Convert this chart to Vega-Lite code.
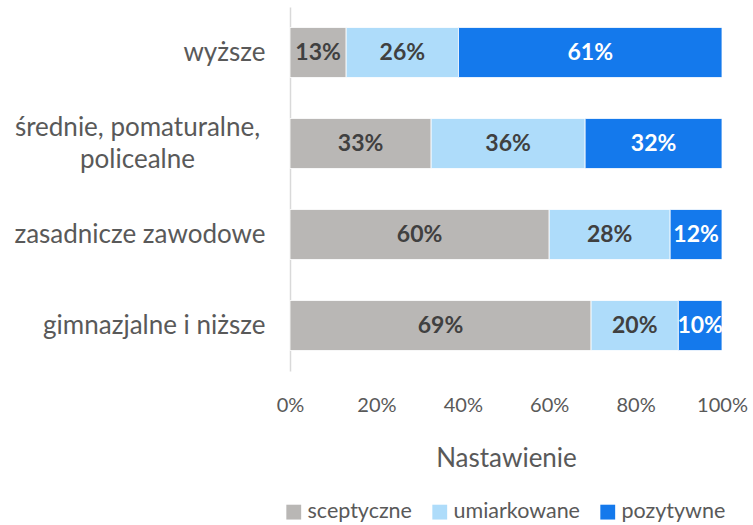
{
  "$schema": "https://vega.github.io/schema/vega-lite/v6.json",
  "width": 432,
  "height": 364,
  "autosize": {"type": "none"},
  "padding": {"left": 290, "top": 7, "right": 31, "bottom": 154},
  "config": {
    "font": "Lato",
    "view": {"stroke": null},
    "axis": {"labelColor": "#595959", "titleColor": "#595959", "labelFont": "Lato", "titleFont": "Lato"}
  },
  "data": {
    "values": [
      {"edu": "wyższe", "cat": "sceptyczne", "v": 0.13},
      {"edu": "wyższe", "cat": "umiarkowane", "v": 0.26},
      {"edu": "wyższe", "cat": "pozytywne", "v": 0.61},
      {"edu": "średnie, pomaturalne, policealne", "cat": "sceptyczne", "v": 0.33},
      {"edu": "średnie, pomaturalne, policealne", "cat": "umiarkowane", "v": 0.36},
      {"edu": "średnie, pomaturalne, policealne", "cat": "pozytywne", "v": 0.32},
      {"edu": "zasadnicze zawodowe", "cat": "sceptyczne", "v": 0.60},
      {"edu": "zasadnicze zawodowe", "cat": "umiarkowane", "v": 0.28},
      {"edu": "zasadnicze zawodowe", "cat": "pozytywne", "v": 0.12},
      {"edu": "gimnazjalne i niższe", "cat": "sceptyczne", "v": 0.69},
      {"edu": "gimnazjalne i niższe", "cat": "umiarkowane", "v": 0.20},
      {"edu": "gimnazjalne i niższe", "cat": "pozytywne", "v": 0.10}
    ]
  },
  "transform": [
    {"calculate": "indexof(['sceptyczne','umiarkowane','pozytywne'], datum.cat)", "as": "ord"},
    {"stack": "v", "groupby": ["edu"], "sort": [{"field": "ord", "order": "ascending"}], "offset": "normalize", "as": ["v0", "v1"]},
    {"calculate": "(datum.v0 + datum.v1) / 2", "as": "mid"}
  ],
  "encoding": {
    "y": {
      "field": "edu",
      "type": "nominal",
      "sort": ["wyższe", "średnie, pomaturalne, policealne", "zasadnicze zawodowe", "gimnazjalne i niższe"],
      "scale": {"paddingInner": 0.45, "paddingOuter": 0.225},
      "axis": {
        "title": null,
        "ticks": false,
        "domainColor": "#d9d9d9",
        "domainWidth": 1.5,
        "labelFontSize": 26,
        "labelPadding": {"condition": {"test": "datum.value == 'średnie, pomaturalne, policealne'", "value": 153}, "value": 25},
        "labelAlign": {"condition": {"test": "datum.value == 'średnie, pomaturalne, policealne'", "value": "center"}, "value": "right"},
        "labelOffset": {"condition": {"test": "datum.value == 'średnie, pomaturalne, policealne'", "value": -16}, "value": 0},
        "labelLimit": 300,
        "labelLineHeight": 32,
        "labelExpr": "datum.label == 'średnie, pomaturalne, policealne' ? ['średnie, pomaturalne,', 'policealne'] : datum.label"
      }
    }
  },
  "layer": [
    {
      "mark": {"type": "bar", "stroke": "#ffffff", "strokeWidth": 0.8},
      "encoding": {
        "x": {
          "field": "v0",
          "type": "quantitative",
          "scale": {"domain": [0, 1], "nice": false},
          "axis": {
            "format": ".0%",
            "values": [0, 0.2, 0.4, 0.6, 0.8, 1],
            "grid": false,
            "ticks": false,
            "domain": false,
            "labelFlush": false,
            "labelFontSize": 20,
            "labelPadding": 24,
            "title": "Nastawienie",
            "titleFontSize": 26,
            "titleFontWeight": "normal",
            "titlePadding": 30
          }
        },
        "x2": {"field": "v1"},
        "color": {
          "field": "cat",
          "type": "nominal",
          "sort": ["sceptyczne", "umiarkowane", "pozytywne"],
          "scale": {"domain": ["sceptyczne", "umiarkowane", "pozytywne"], "range": ["#b9b7b5", "#aedcfa", "#1479ec"]},
          "legend": {
            "title": null,
            "orient": "none",
            "direction": "horizontal",
            "legendX": -7,
            "legendY": 494,
            "symbolType": "square",
            "symbolSize": 220,
            "symbolStrokeWidth": 0,
            "labelFontSize": 21.5,
            "labelColor": "#595959",
            "labelFont": "Lato",
            "columnPadding": 17,
            "labelOffset": 3
          }
        }
      }
    },
    {
      "mark": {"type": "text", "fontSize": 23, "fontWeight": "bold", "font": "Lato"},
      "encoding": {
        "x": {"field": "mid", "type": "quantitative"},
        "text": {"field": "v", "type": "quantitative", "format": ".0%"},
        "color": {
          "condition": {"test": "datum.cat == 'pozytywne'", "value": "#ffffff"},
          "value": "#404040"
        }
      }
    }
  ]
}
